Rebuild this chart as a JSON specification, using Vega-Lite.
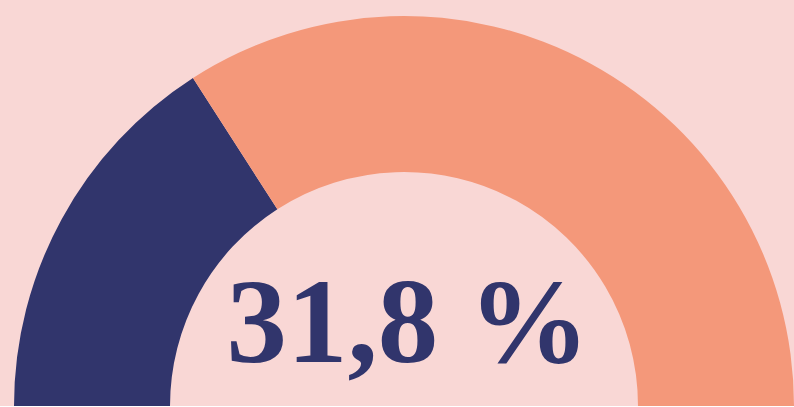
{
  "$schema": "https://vega.github.io/schema/vega-lite/v6.json",
  "width": 808,
  "height": 406,
  "padding": 0,
  "autosize": {"type": "none"},
  "background": "#F9D7D5",
  "config": {"view": {"stroke": null}},
  "layer": [
    {
      "data": {"values": [
        {"group": "Ja", "share": 31.8, "order": 1},
        {"group": "Nein", "share": 68.2, "order": 2}
      ]},
      "mark": {"type": "arc", "radius": 390, "radius2": 234, "x": {"expr": "width/2"}, "y": {"expr": "height"}},
      "encoding": {
        "theta": {"field": "share", "type": "quantitative", "stack": true, "scale": {"range": [-1.5707963, 1.5707963]}},
        "order": {"field": "order", "type": "quantitative"},
        "color": {"field": "group", "type": "nominal", "scale": {"domain": ["Ja", "Nein"], "range": ["#31356C", "#F4987A"]}, "legend": null}
      }
    },
    {
      "data": {"values": [{"label": "31,8 %"}]},
      "mark": {"type": "text", "font": "Liberation Serif", "fontWeight": "bold", "fontSize": 121, "color": "#31356C", "align": "center", "baseline": "alphabetic", "dx": 4, "x": {"expr": "width/2"}, "y": {"expr": "height - 44"}},
      "encoding": {"text": {"field": "label", "type": "nominal"}}
    }
  ]
}
